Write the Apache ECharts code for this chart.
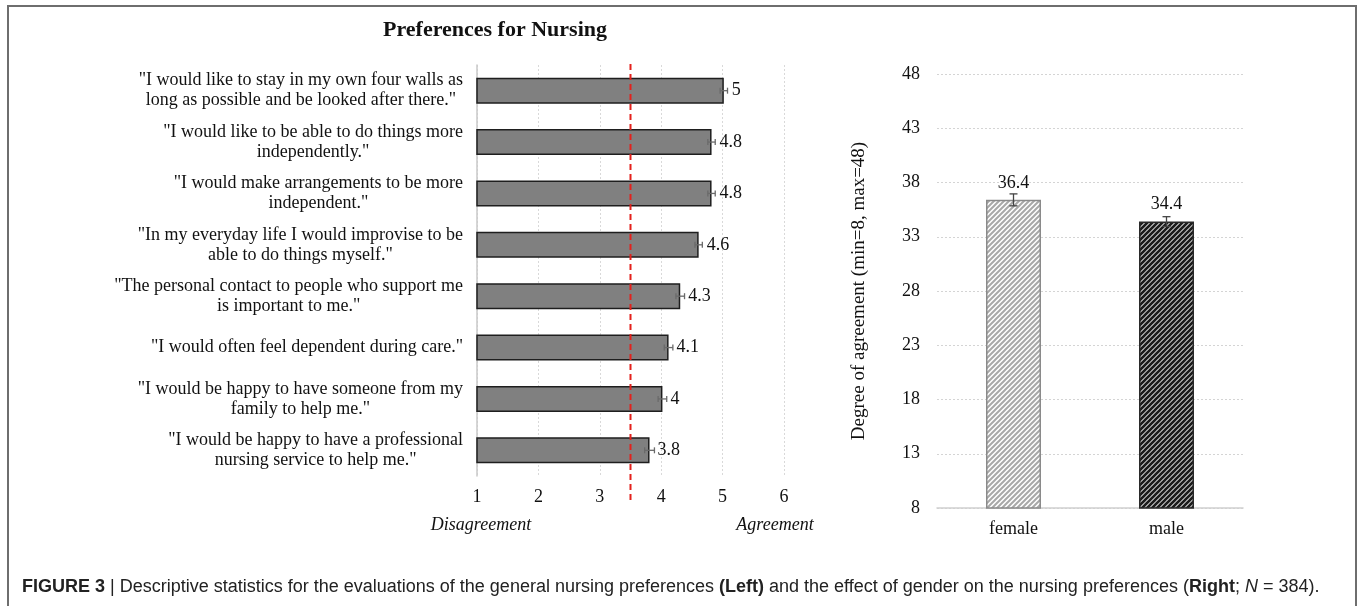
<!DOCTYPE html>
<html>
<head>
<meta charset="utf-8">
<script src="https://cdn.jsdelivr.net/npm/echarts@6/dist/echarts.min.js"></script>
<style>
  html, body { margin: 0; padding: 0; background: #fff; }
  #chart { width: 1357px; height: 606px; }
</style>
</head>
<body>
<div id="chart"></div>
<script>
// ---------- DATA ----------
const chartTitle = 'Preferences for Nursing';
const statements = [
  '"I would like to stay in my own four walls as\nlong as possible and be looked after there."',
  '"I would like to be able to do things more\nindependently."',
  '"I would make arrangements to be more\nindependent."',
  '"In my everyday life I would improvise to be\nable to do things myself."',
  '"The personal contact to people who support me\nis important to me."',
  '"I would often feel dependent during care."',
  '"I would be happy to have someone from my\nfamily to help me."',
  '"I would be happy to have a professional\nnursing service to help me."'
];
const statementMeans = [5.02, 4.82, 4.82, 4.61, 4.31, 4.12, 4.02, 3.81];
const statementLabels = ['5', '4.8', '4.8', '4.6', '4.3', '4.1', '4', '3.8'];
const statementErrors = [0.06, 0.06, 0.06, 0.06, 0.07, 0.07, 0.07, 0.08];
const agreementScale = { min: 1, max: 6, interval: 1 };
const neutralPoint = 3.5;
const scaleEndLabels = ['Disagreement', 'Agreement'];

const genders = ['female', 'male'];
const genderMeans = [36.4, 34.4];
const genderErrors = [0.55, 0.45];
const genderScale = { min: 8, max: 48, interval: 5 };
const genderAxisName = 'Degree of agreement (min=8, max=48)';

const captionText = '{b|FIGURE 3}{n| | Descriptive statistics for the evaluations of the general nursing preferences }{b|(Left)}{n| and the effect of gender on the nursing preferences (}{b|Right}{n|; }{i|N}{n| = 384).}';

// ---------- STYLE HELPERS ----------
const SERIF = '"Liberation Serif", "DejaVu Serif", serif';
const SANS = '"Liberation Sans", Arial, sans-serif';
const FS = 18;

function hatch(bg, stripe, width, size) {
  const c = document.createElement('canvas');
  c.width = size; c.height = size;
  const ctx = c.getContext('2d');
  ctx.fillStyle = bg; ctx.fillRect(0, 0, size, size);
  ctx.strokeStyle = stripe; ctx.lineWidth = width;
  ctx.beginPath();
  for (let k = -1; k <= 1; k++) {
    ctx.moveTo(k * size - 1, size + 1);
    ctx.lineTo(k * size + size + 1, -1);
  }
  ctx.stroke();
  return { image: c, repeat: 'repeat' };
}
const genderFills = [hatch('#ffffff', '#a8a8a8', 2, 5), hatch('#ffffff', '#1c1c1c', 2.7, 5)];
const genderBorders = ['#8a8a8a', '#2a2a2a'];

const chart = echarts.init(document.getElementById('chart'), null, { renderer: 'canvas' });

const option = {
  backgroundColor: '#ffffff',
  animation: false,
  grid: [
    { left: 477, right: 573, top: 65, bottom: 130, containLabel: false },
    { left: 937, right: 114, top: 74, bottom: 98, containLabel: false },
    { left: 477, right: 573, top: 61, bottom: 106, containLabel: false }
  ],
  xAxis: [
    {
      gridIndex: 0, type: 'value',
      min: agreementScale.min, max: agreementScale.max, interval: agreementScale.interval,
      axisLine: { show: false }, axisTick: { show: false },
      axisLabel: { fontFamily: SERIF, fontSize: FS, color: '#111', margin: 12 },
      splitLine: { show: true, lineStyle: { color: '#d9d9d9', type: [2, 2], width: 1 } }
    },
    {
      gridIndex: 1, type: 'category', data: genders,
      axisLine: { show: true, lineStyle: { color: '#cfcfcf', width: 1.5 } },
      axisTick: { show: false },
      axisLabel: { fontFamily: SERIF, fontSize: FS, color: '#111', margin: 12 }
    },
    {
      gridIndex: 2, type: 'value', show: false,
      min: agreementScale.min, max: agreementScale.max
    }
  ],
  yAxis: [
    {
      gridIndex: 0, type: 'category', data: statements, inverse: true,
      axisLine: { show: true, lineStyle: { color: '#c8c8c8', width: 1.5 } },
      axisTick: { show: false },
      axisLabel: {
        fontFamily: SERIF, fontSize: FS, color: '#111', margin: 14, align: 'right',
        lineHeight: 20,
        formatter: v => v.split('\n').map(l => '{c|' + l + '}').join('\n'),
        rich: { c: { align: 'center', fontFamily: SERIF, fontSize: FS, color: '#111', lineHeight: 20 } }
      }
    },
    {
      gridIndex: 1, type: 'value',
      min: genderScale.min, max: genderScale.max, interval: genderScale.interval,
      name: genderAxisName, nameLocation: 'middle', nameGap: 68,
      nameTextStyle: { fontFamily: SERIF, fontSize: 19, color: '#111' },
      axisLine: { show: false }, axisTick: { show: false },
      axisLabel: { fontFamily: SERIF, fontSize: FS, color: '#111', margin: 17 },
      splitLine: { show: true, lineStyle: { color: '#d4d4d4', type: [2, 2], width: 1 } }
    },
    { gridIndex: 2, type: 'value', show: false, min: 0, max: 1 }
  ],
  series: [
    {
      type: 'bar', xAxisIndex: 0, yAxisIndex: 0,
      data: statementMeans, barWidth: 26,
      itemStyle: { color: '#808080', borderColor: '#1e1e1e', borderWidth: 1.5 },
      label: {
        show: true, position: 'right', distance: 8,
        fontFamily: SERIF, fontSize: FS, color: '#111',
        formatter: p => statementLabels[p.dataIndex]
      },
      z: 2
    },
    {
      type: 'custom', xAxisIndex: 0, yAxisIndex: 0,
      data: statementMeans.map((v, i) => [v, i, statementErrors[i]]),
      encode: { x: 0, y: 1 },
      renderItem: (params, api) => {
        const v = api.value(0), i = api.value(1), e = api.value(2);
        const lo = api.coord([v - e, i]);
        const hi = api.coord([v + e, i]);
        const h = 3;
        const st = { stroke: '#6a6a6a', lineWidth: 1.3 };
        return {
          type: 'group',
          children: [
            { type: 'line', shape: { x1: lo[0], y1: lo[1], x2: hi[0], y2: hi[1] }, style: st },
            { type: 'line', shape: { x1: lo[0], y1: lo[1] - h, x2: lo[0], y2: lo[1] + h }, style: st },
            { type: 'line', shape: { x1: hi[0], y1: hi[1] - h, x2: hi[0], y2: hi[1] + h }, style: st }
          ]
        };
      },
      z: 3
    },
    {
      type: 'line', xAxisIndex: 2, yAxisIndex: 2,
      data: [[neutralPoint, 0], [neutralPoint, 1]],
      symbol: 'none', silent: true,
      lineStyle: { color: '#e3211c', width: 2, type: [6, 4] },
      z: 10
    },
    {
      type: 'bar', xAxisIndex: 1, yAxisIndex: 1,
      data: genderMeans.map((v, i) => ({
        value: v,
        itemStyle: { color: genderFills[i], borderColor: genderBorders[i], borderWidth: 1.5 }
      })),
      barWidth: 55,
      label: {
        show: true, position: 'top', distance: 8,
        fontFamily: SERIF, fontSize: FS, color: '#111'
      },
      z: 2
    },
    {
      type: 'custom', xAxisIndex: 1, yAxisIndex: 1,
      data: genderMeans.map((v, i) => [i, v, genderErrors[i]]),
      encode: { x: 0, y: 1 },
      renderItem: (params, api) => {
        const i = api.value(0), v = api.value(1), e = api.value(2);
        const top = api.coord([i, v + e]);
        const bot = api.coord([i, v - e]);
        const w = 4;
        const st = { stroke: '#444', lineWidth: 1.3 };
        return {
          type: 'group',
          children: [
            { type: 'line', shape: { x1: top[0], y1: top[1], x2: bot[0], y2: bot[1] }, style: st },
            { type: 'line', shape: { x1: top[0] - w, y1: top[1], x2: top[0] + w, y2: top[1] }, style: st },
            { type: 'line', shape: { x1: bot[0] - w, y1: bot[1], x2: bot[0] + w, y2: bot[1] }, style: st }
          ]
        };
      },
      z: 3
    }
  ],
  graphic: [
    {
      type: 'rect', silent: true, z: -1,
      shape: { x: 8, y: 6, width: 1348, height: 700 },
      style: { fill: 'none', stroke: '#6e6e6e', lineWidth: 2 }
    },
    {
      type: 'text', silent: true,
      style: {
        text: chartTitle, x: 495, y: 30, textAlign: 'center', textVerticalAlign: 'middle',
        fontFamily: SERIF, fontSize: 22, fontWeight: 'bold', fill: '#111'
      }
    },
    {
      type: 'text', silent: true,
      style: {
        text: scaleEndLabels[0], x: 481, y: 525, textAlign: 'center', textVerticalAlign: 'middle',
        fontFamily: SERIF, fontSize: FS, fontStyle: 'italic', fill: '#111'
      }
    },
    {
      type: 'text', silent: true,
      style: {
        text: scaleEndLabels[1], x: 775, y: 525, textAlign: 'center', textVerticalAlign: 'middle',
        fontFamily: SERIF, fontSize: FS, fontStyle: 'italic', fill: '#111'
      }
    },
    {
      type: 'text', silent: true,
      style: {
        x: 22, y: 587, textVerticalAlign: 'middle',
        text: captionText,
        rich: {
          b: { fontFamily: SANS, fontSize: 18, fontWeight: 'bold', fill: '#222' },
          n: { fontFamily: SANS, fontSize: 18, fill: '#222' },
          i: { fontFamily: SANS, fontSize: 18, fontStyle: 'italic', fill: '#222' }
        }
      }
    }
  ]
};
chart.setOption(option);
</script>
</body>
</html>
